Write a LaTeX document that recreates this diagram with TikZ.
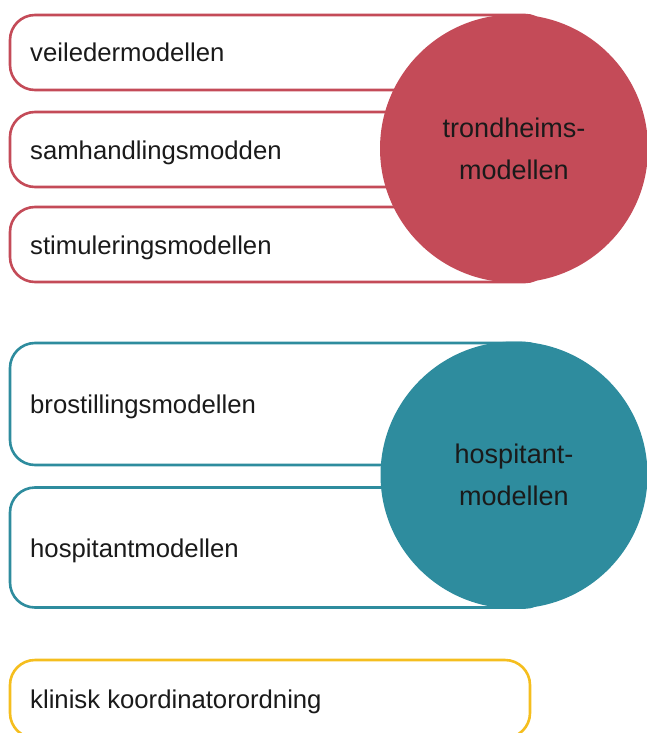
\documentclass[tikz,border=0pt]{standalone}
\usepackage{fontspec}
\setmainfont{Liberation Sans}
\definecolor{cred}{RGB}{196,75,88}
\definecolor{cteal}{RGB}{46,140,158}
\definecolor{cgold}{RGB}{245,190,30}
\definecolor{ctext}{RGB}{26,26,26}
\begin{document}
\begin{tikzpicture}[x=1pt,y=-1pt,
  pill/.style={draw=#1, line width=2.6pt, rounded corners=25pt, fill=white,
    minimum width=540pt, inner sep=0pt},
  blob/.style={circle, fill=#1, minimum size=268pt, inner sep=0pt, align=center,
    text=ctext, font=\fontsize{27}{42}\selectfont},
  lbl/.style={anchor=base west, inner sep=0pt, text=ctext,
    font=\fontsize{25.7}{30}\selectfont}]
\useasboundingbox (0,0) rectangle (646,733);
% red group
\node[pill=cred, minimum height=75pt] (b1) at (280,52.5) {};
\node[pill=cred, minimum height=75pt] (b2) at (280,149.5) {};
\node[pill=cred, minimum height=75pt] (b3) at (280,244.5) {};
\node[blob=cred] (c1) at (514,148.5) {trondheims-\\modellen};
\node[lbl] (t1) at (30,62) {veiledermodellen};
\node[lbl] (t2) at (30,159) {samhandlingsmodden};
\node[lbl] (t3) at (30,254) {stimuleringsmodellen};
% teal group
\node[pill=cteal, minimum height=122pt] (b4) at (280,404) {};
\node[pill=cteal, minimum height=120pt] (b5) at (280,547.5) {};
\node[blob=cteal, minimum size=267pt] (c2) at (514,475) {hospitant-\\modellen};
\node[lbl] (t4) at (30,413.5) {brostillingsmodellen};
\node[lbl] (t5) at (30,557) {hospitantmodellen};
% gold
\node[pill=cgold, minimum width=520pt, minimum height=78pt] (b6) at (270,699) {};
\node[lbl] (t6) at (30,708) {klinisk koordinatorordning};
\end{tikzpicture}
\end{document}
